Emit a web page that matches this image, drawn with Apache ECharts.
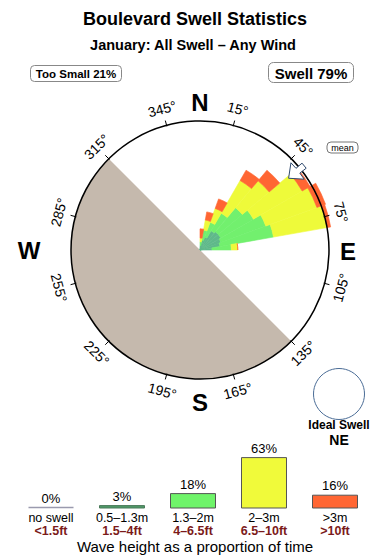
<!DOCTYPE html>
<html>
<head>
<meta charset="utf-8">
<script src="https://cdn.jsdelivr.net/npm/echarts@6/dist/echarts.min.js"></script>
<style>html,body{margin:0;padding:0;background:#fff}#c{width:390px;height:560px}</style>
</head>
<body>
<div id="c"></div>
<script>
// ---- Data ----
const titleText = 'Boulevard Swell Statistics';
const subtitleText = 'January: All Swell – Any Wind';
const tooSmallText = 'Too Small 21%';
const swellText = 'Swell 79%';
const idealSwellDir = 'NE';
const meanDirection = 51; // degrees
const landFrom = 135, landTo = 315; // bearings of land sector (clockwise)

// rose bins (10° each, starting at north, clockwise); values in % of time
const dirBins = ['0–10°','10–20°','20–30°','30–40°','40–50°','50–60°','60–70°','70–80°','80–90°'];
const band05to13 = [0.5, 1.1, 1.5, 2.4, 2.6, 2.6, 2.4, 2.2, 1.3];
const band13to2  = [0.4, 1.1, 1.7, 2.2, 3.4, 4.1, 5.2, 5.9, 2.1];
const band2to3   = [0.4, 1.1, 1.6, 4.1, 3.8, 6.1, 5.9, 5.9, 0.7];
const band3plus  = [1.0, 0.9, 1.1, 1.3, 1.5, 1.0, 1.0, 0.4, 0];
const roseMax = 14;

const degreeTicks = [15,45,75,105,135,165,195,225,255,285,315,345];

// wave-height legend
const heightLabels = ['no swell','0.5–1.3m','1.3–2m','2–3m','>3m'];
const feetLabels = ['<1.5ft','1.5–4ft','4–6.5ft','6.5–10ft','>10ft'];
const heightPercents = [0, 3, 18, 63, 16];
const legendTitle = 'Wave height as a proportion of time';

// ---- Styles ----
const FONT = '"Liberation Sans", Arial, Helvetica, sans-serif';
const cTeal = '#5fb98a', cGreen = '#72f06e', cYellow = '#eefa3a', cOrange = '#ff6633';
const legendColors = ['#9a9aae', '#4f9a68', '#6ff46a', '#f0fa3a', '#ff6633'];

const cx = 200, cy = 250, R = 129;
const rad = Math.PI / 180;
function pt(b, r) { const a = (b - 90) * rad; return [cx + r * Math.cos(a), cy + r * Math.sin(a)]; }

// angle categories (36 x 10°)
const angleCats = [];
for (let i = 0; i < 36; i++) angleCats.push((i * 10) + '°');
function pad(arr) { const out = []; for (let i = 0; i < 36; i++) out.push(i < arr.length ? arr[i] : '-'); return out; }

const chart = echarts.init(document.getElementById('c'), null, { renderer: 'svg', width: 390, height: 560 });

const g = [];
// land
g.push({ type: 'sector', z: 1, shape: { cx, cy, r0: 0, r: R, startAngle: (landFrom - 90) * rad, endAngle: (landTo - 90) * rad, clockwise: true },
  style: { fill: '#c5b9ad' } });
// outer circle
g.push({ type: 'circle', z: 10, shape: { cx, cy, r: R }, style: { fill: 'none', stroke: '#000', lineWidth: 1.5 } });
// ticks & degree labels
degreeTicks.forEach(b => {
  const p1 = pt(b, R - 1), p2 = pt(b, R + 5);
  g.push({ type: 'line', z: 10, shape: { x1: p1[0], y1: p1[1], x2: p2[0], y2: p2[1] }, style: { stroke: '#000', lineWidth: 1 } });
  const p = pt(b, 146);
  const rot = ((b + 90) % 180) - 90;
  g.push({ type: 'text', z: 10, x: p[0], y: p[1], rotation: -rot * rad,
    style: { text: b + '°', fontSize: 14, fontFamily: FONT, fill: '#000', align: 'center', verticalAlign: 'middle' } });
});
// compass letters
[['N', 200, 102], ['E', 348, 251], ['S', 200, 402], ['W', 29, 250]].forEach(d => {
  g.push({ type: 'text', z: 10, x: d[1], y: d[2], style: { text: d[0], fontSize: 24, fontWeight: 'bold', fontFamily: FONT, fill: '#000', align: 'center', verticalAlign: 'middle' } });
});
// mean arrow (arrowhead pointing to centre)
(function () {
  const tip = pt(meanDirection, 114);
  const bl = pt(meanDirection - 4.8, 126), br = pt(meanDirection + 4.8, 126);
  const sl = pt(meanDirection - 1.4, 126), sr = pt(meanDirection + 1.4, 126);
  const tl = pt(meanDirection - 1.4, 134), tr = pt(meanDirection + 1.4, 134);
  g.push({ type: 'polygon', z: 11, shape: { points: [tip, br, sr, tr, tl, sl, bl] },
    style: { fill: '#fff', stroke: '#2f4a6e', lineWidth: 1 } });
})();
// mean box
g.push({ type: 'rect', z: 10, shape: { x: 327, y: 142, width: 31, height: 11, r: 4 }, style: { fill: '#fff', stroke: '#777', lineWidth: 1 } });
g.push({ type: 'text', z: 11, x: 342.5, y: 147.7, style: { text: 'mean', fontSize: 9, fontFamily: FONT, fill: '#000', align: 'center', verticalAlign: 'middle' } });
// titles
g.push({ type: 'text', x: 195, y: 19, style: { text: titleText, fontSize: 18, fontWeight: 'bold', fontFamily: FONT, fill: '#000', align: 'center', verticalAlign: 'middle' } });
g.push({ type: 'text', x: 193, y: 44.5, style: { text: subtitleText, fontSize: 14.5, fontWeight: 'bold', fontFamily: FONT, fill: '#000', align: 'center', verticalAlign: 'middle' } });
// boxes
g.push({ type: 'rect', shape: { x: 30.5, y: 65.5, width: 91, height: 16, r: 4 }, style: { fill: '#fff', stroke: '#888', lineWidth: 1 } });
g.push({ type: 'text', x: 76, y: 74, style: { text: tooSmallText, fontSize: 11.5, fontWeight: 'bold', fontFamily: FONT, fill: '#000', align: 'center', verticalAlign: 'middle' } });
g.push({ type: 'rect', shape: { x: 268.5, y: 62.5, width: 85, height: 20, r: 5 }, style: { fill: '#fff', stroke: '#888', lineWidth: 1 } });
g.push({ type: 'text', x: 311, y: 73, style: { text: swellText, fontSize: 15, fontWeight: 'bold', fontFamily: FONT, fill: '#000', align: 'center', verticalAlign: 'middle' } });
// ideal swell
g.push({ type: 'circle', shape: { cx: 339, cy: 394, r: 25.5 }, style: { fill: '#fff', stroke: '#4a6c96', lineWidth: 1 } });
g.push({ type: 'text', x: 339, y: 424.5, style: { text: 'Ideal Swell', fontSize: 12, fontWeight: 'bold', fontFamily: FONT, fill: '#000', align: 'center', verticalAlign: 'middle' } });
g.push({ type: 'text', x: 339, y: 440, style: { text: idealSwellDir, fontSize: 14, fontWeight: 'bold', fontFamily: FONT, fill: '#000', align: 'center', verticalAlign: 'middle' } });
// legend title
g.push({ type: 'text', x: 195, y: 546, style: { text: legendTitle, fontSize: 15, fontFamily: FONT, fill: '#000', align: 'center', verticalAlign: 'middle' } });

function roseSeries(name, data, color) {
  return { name, type: 'bar', coordinateSystem: 'polar', polarIndex: 0, stack: 'rose', data: pad(data),
    barCategoryGap: '0%', barGap: '0%', clip: false, silent: true,
    itemStyle: { color: color, borderColor: color, borderWidth: 0.6 } };
}

const option = {
  animation: false,
  textStyle: { fontFamily: FONT },
  polar: { center: [cx, cy], radius: R },
  angleAxis: { type: 'category', data: angleCats, startAngle: 90, clockwise: true, boundaryGap: true,
    axisLine: { show: false }, axisTick: { show: false }, axisLabel: { show: false }, splitLine: { show: false } },
  radiusAxis: { type: 'value', min: 0, max: roseMax,
    axisLine: { show: false }, axisTick: { show: false }, axisLabel: { show: false }, splitLine: { show: false } },
  grid: { left: 15.5, right: 19.5, top: 452, bottom: 52 },
  xAxis: { type: 'category', data: heightLabels, axisLine: { show: false }, axisTick: { show: false },
    axisLabel: { margin: 4, interval: 0,
      formatter: (v, i) => '{a|' + v + '}\n{b|' + feetLabels[i] + '}',
      rich: { a: { fontSize: 12.5, color: '#000', fontFamily: FONT, lineHeight: 12.5 },
              b: { fontSize: 12.5, color: '#7b1a1a', fontWeight: 'bold', fontFamily: FONT, lineHeight: 12.5 } } } },
  yAxis: { type: 'value', min: 0, max: 70, show: false },
  graphic: { elements: g },
  series: [
    roseSeries('0.5–1.3m', band05to13, cTeal),
    roseSeries('1.3–2m', band13to2, cGreen),
    roseSeries('2–3m', band2to3, cYellow),
    roseSeries('>3m', band3plus, cOrange),
    {
      type: 'custom', coordinateSystem: 'cartesian2d', silent: true,
      data: heightPercents.map((v, i) => [i, v]),
      renderItem: function (params, api) {
        const i = api.value(0), v = api.value(1);
        const p0 = api.coord([i, 0]), p1 = api.coord([i, v]);
        const w = 45, x = p0[0];
        const children = [];
        if (v === 0) {
          children.push({ type: 'line', shape: { x1: x - w / 2, y1: p0[1] - 0.5, x2: x + w / 2, y2: p0[1] - 0.5 },
            style: { stroke: legendColors[i], lineWidth: 1.5 } });
        } else {
          children.push({ type: 'rect', shape: { x: x - w / 2, y: p1[1], width: w, height: p0[1] - p1[1] },
            style: { fill: legendColors[i], stroke: i === 1 ? '#4a7a5a' : '#555', lineWidth: 1 } });
        }
        children.push({ type: 'text', x: x, y: p1[1] - 9.5,
          style: { text: v + '%', fontSize: 13, fontFamily: FONT, fill: '#000', align: 'center', verticalAlign: 'middle' } });
        return { type: 'group', children };
      }
    }
  ]
};
chart.setOption(option);
</script>
</body>
</html>
